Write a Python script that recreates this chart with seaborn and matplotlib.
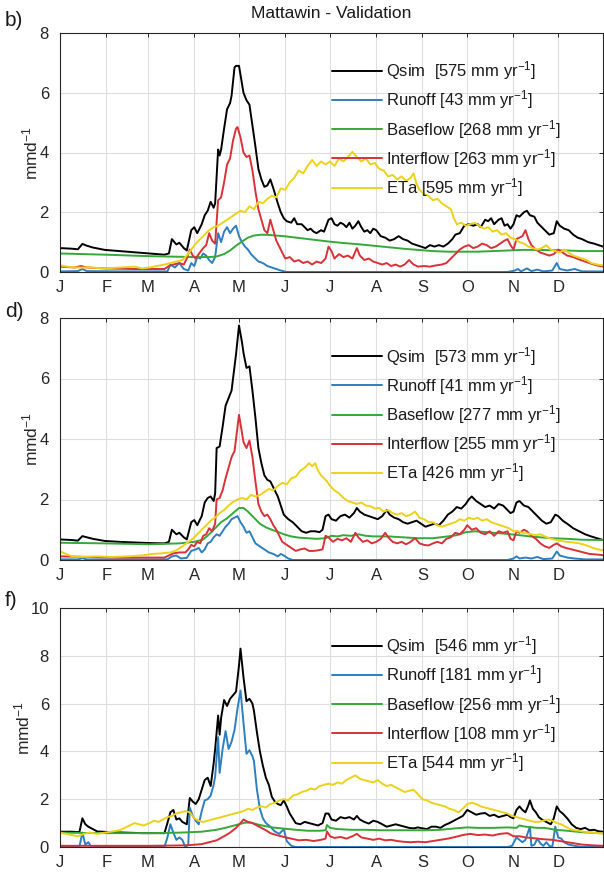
import numpy as np
import pandas as pd
import matplotlib
matplotlib.use("Agg")
import matplotlib.pyplot as plt
import seaborn as sns

# ---------------- data ----------------
month_starts = [0, 31, 59, 90, 120, 151, 181, 212, 243, 273, 304, 334]
month_labels = ["J", "F", "M", "A", "M", "J", "J", "A", "S", "O", "N", "D"]
series_names = ["Qsim", "Runoff", "Baseflow", "Interflow", "ETa"]
panel_letters = ["b)", "d)", "f)"]
title = "Mattawin - Validation"
annual_totals = [[575, 43, 268, 263, 595],
                 [573, 41, 277, 255, 426],
                 [546, 181, 256, 108, 544]]
y_max = [8, 8, 10]

# Panel b) (day of year, mm/d)
p1_qsim = [(0,0.80),(8,0.78),(12,0.76),(15,0.94),(18,0.88),(22,0.82),(30,0.74),(40,0.70),(50,0.66),(60,0.62),(70,0.58),(73,0.62),(75,1.10),(78,0.92),(80,0.98),(83,0.80),(85,0.72),(88,1.40),(90,1.50),(92,1.30),(95,1.60),(97,1.90),(99,2.05),(101,2.35),(103,2.15),(104,2.30),(105,3.20),(106,4.10),(107,3.90),(108,4.10),(110,4.80),(112,5.45),(114,5.65),(115,5.90),(117,6.85),(118,6.90),(120,6.90),(122,6.30),(123,6.00),(125,5.75),(127,5.60),(129,4.90),(131,4.20),(133,3.45),(135,3.10),(137,2.85),(139,2.90),(141,3.10),(143,2.80),(146,2.30),(148,2.00),(150,1.80),(152,1.70),(155,1.65),(157,1.80),(159,1.60),(162,1.60),(164,1.50),(166,1.40),(168,1.45),(170,1.35),(172,1.30),(175,1.40),(177,1.35),(180,1.75),(182,1.80),(184,1.60),(186,1.55),(188,1.65),(190,1.60),(192,1.50),(194,1.65),(196,1.45),(198,1.55),(200,1.70),(202,1.50),(204,1.35),(206,1.40),(208,1.30),(210,1.45),(212,1.40),(215,1.20),(218,1.15),(221,1.05),(224,1.10),(227,1.20),(230,1.10),(233,1.05),(236,0.95),(239,0.90),(242,0.85),(245,0.80),(248,0.90),(251,0.85),(254,0.90),(257,0.85),(260,0.95),(263,1.10),(265,1.25),(268,1.30),(271,1.55),(274,1.60),(277,1.55),(280,1.60),(282,1.50),(285,1.75),(287,1.70),(289,1.80),(291,1.60),(294,1.75),(296,1.80),(298,1.55),(300,1.60),(302,1.45),(304,1.60),(306,1.90),(308,1.85),(311,2.00),(313,2.05),(315,1.90),(318,1.85),(320,1.65),(322,1.55),(325,1.40),(328,1.25),(331,1.30),(333,1.70),(335,1.55),(338,1.45),(341,1.40),(344,1.25),(347,1.15),(350,1.10),(354,1.00),(358,0.95),(364,0.85)]
p1_runoff = [(0,0.02),(12,0.03),(15,0.10),(18,0.03),(40,0.02),(60,0.02),(72,0.02),(74,0.25),(77,0.15),(80,0.30),(83,0.10),(86,0.05),(88,0.30),(90,0.20),(92,0.50),(94,0.45),(96,0.62),(98,0.55),(100,0.40),(102,0.30),(104,0.50),(106,1.30),(108,1.00),(110,1.35),(112,1.50),(114,1.30),(116,1.45),(118,1.55),(120,1.20),(122,1.00),(124,0.85),(126,0.75),(128,0.60),(130,0.50),(133,0.35),(136,0.30),(139,0.20),(142,0.15),(145,0.10),(148,0.05),(152,0.0),(200,0.0),(300,0.0),(305,0.05),(307,0.10),(309,0.02),(313,0.12),(316,0.03),(320,0.08),(324,0.02),(330,0.05),(333,0.30),(335,0.10),(340,0.05),(345,0.10),(350,0.02),(364,0.02)]
p1_baseflow = [(0,0.62),(30,0.58),(60,0.53),(90,0.50),(100,0.50),(105,0.52),(110,0.60),(114,0.72),(118,0.88),(122,1.02),(126,1.15),(130,1.22),(135,1.25),(140,1.24),(150,1.20),(160,1.14),(170,1.08),(180,1.02),(190,0.97),(200,0.93),(210,0.88),(220,0.83),(230,0.78),(240,0.74),(250,0.70),(260,0.68),(270,0.68),(280,0.68),(290,0.70),(300,0.72),(310,0.74),(320,0.74),(330,0.73),(340,0.72),(350,0.70),(364,0.70)]
p1_interflow = [(0,0.18),(10,0.15),(14,0.20),(18,0.15),(30,0.12),(50,0.10),(70,0.10),(73,0.20),(76,0.25),(80,0.30),(83,0.25),(85,0.45),(87,0.75),(89,0.55),(91,0.45),(93,0.60),(96,0.80),(98,0.90),(100,1.30),(102,1.05),(104,0.95),(106,2.40),(108,2.50),(110,3.00),(112,3.60),(114,3.80),(116,4.40),(118,4.80),(119,4.85),(121,4.50),(123,4.00),(125,3.85),(127,3.90),(129,3.40),(131,2.70),(133,2.10),(135,1.75),(137,1.40),(139,1.30),(141,1.75),(143,1.40),(145,1.05),(147,0.85),(149,0.65),(151,0.45),(154,0.50),(157,0.35),(160,0.40),(163,0.30),(166,0.35),(169,0.25),(172,0.35),(175,0.30),(178,0.45),(180,0.85),(182,0.70),(184,0.45),(187,0.60),(190,0.50),(193,0.55),(196,0.45),(199,0.80),(201,0.55),(204,0.40),(207,0.45),(210,0.35),(213,0.30),(216,0.25),(219,0.30),(222,0.20),(225,0.25),(228,0.18),(231,0.25),(234,0.40),(237,0.25),(240,0.18),(244,0.20),(248,0.18),(252,0.22),(256,0.25),(259,0.30),(262,0.45),(265,0.60),(268,0.75),(271,0.85),(274,0.90),(277,0.80),(280,0.85),(283,0.95),(286,0.90),(289,0.80),(292,0.85),(295,0.95),(298,1.05),(300,1.10),(302,0.90),(304,0.75),(306,1.10),(308,1.15),(310,1.20),(312,1.40),(314,1.10),(316,0.90),(319,0.75),(322,0.65),(325,0.60),(328,0.55),(331,0.60),(334,0.75),(337,0.65),(340,0.55),(344,0.50),(348,0.42),(352,0.35),(356,0.28),(360,0.22),(364,0.18)]
p1_eta = [(0,0.22),(5,0.18),(10,0.15),(20,0.15),(30,0.12),(40,0.15),(50,0.18),(55,0.12),(60,0.15),(65,0.20),(70,0.25),(74,0.30),(78,0.35),(82,0.40),(85,0.55),(88,0.75),(91,0.95),(94,1.10),(97,1.25),(100,1.40),(103,1.50),(106,1.55),(109,1.65),(112,1.75),(115,1.85),(118,1.95),(121,2.05),(124,2.00),(127,2.20),(130,2.10),(133,2.35),(136,2.30),(139,2.45),(142,2.55),(145,2.50),(148,2.80),(151,2.75),(154,3.00),(157,3.15),(160,3.40),(163,3.30),(166,3.55),(169,3.75),(172,3.55),(175,3.70),(178,3.60),(181,3.70),(184,3.55),(187,3.80),(190,3.70),(193,3.85),(196,4.02),(199,3.85),(202,3.70),(205,3.80),(208,3.60),(211,3.65),(214,3.45),(217,3.40),(220,3.20),(223,3.25),(226,3.10),(229,3.20),(232,3.05),(235,3.15),(237,3.30),(239,2.95),(241,2.75),(244,2.60),(247,2.55),(250,2.40),(253,2.45),(256,2.30),(259,2.20),(262,2.10),(264,1.80),(266,1.60),(269,1.65),(272,1.55),(275,1.60),(278,1.65),(281,1.55),(284,1.45),(287,1.50),(290,1.35),(293,1.40),(296,1.25),(299,1.30),(302,1.15),(305,1.10),(308,1.00),(311,0.95),(314,0.85),(317,0.80),(320,0.75),(323,0.80),(326,0.90),(329,0.75),(332,0.70),(335,0.65),(338,0.75),(341,0.65),(344,0.55),(347,0.50),(350,0.45),(353,0.40),(356,0.30),(360,0.25),(364,0.22)]

# Panel d)
p2_qsim = [(0,0.68),(8,0.66),(12,0.64),(15,0.79),(18,0.75),(22,0.70),(30,0.63),(40,0.60),(50,0.58),(60,0.56),(70,0.55),(73,0.60),(75,1.00),(78,0.85),(80,0.90),(83,0.75),(85,0.68),(88,1.25),(90,1.32),(92,1.15),(95,1.45),(97,1.90),(99,2.05),(101,2.10),(103,1.95),(104,2.20),(105,3.70),(107,3.75),(109,4.40),(111,5.10),(113,5.35),(115,5.60),(117,6.40),(118,6.80),(120,7.75),(122,7.20),(123,6.85),(125,6.35),(127,6.40),(129,5.60),(131,4.70),(133,3.70),(135,3.20),(137,2.80),(139,2.65),(141,2.60),(143,2.40),(146,2.10),(148,1.80),(150,1.50),(153,1.35),(156,1.25),(159,1.10),(162,0.95),(165,0.90),(168,0.95),(171,0.95),(174,0.92),(176,1.00),(178,1.45),(180,1.50),(182,1.35),(185,1.30),(188,1.45),(191,1.50),(194,1.40),(197,1.55),(199,1.72),(201,1.60),(204,1.50),(207,1.45),(210,1.40),(213,1.35),(216,1.45),(219,1.65),(221,1.50),(224,1.40),(227,1.35),(230,1.25),(233,1.20),(236,1.25),(239,1.30),(242,1.20),(245,1.10),(248,1.15),(251,1.20),(254,1.15),(257,1.30),(260,1.50),(263,1.60),(266,1.75),(269,1.70),(272,1.85),(274,2.00),(276,2.10),(279,1.95),(282,1.85),(285,1.75),(288,1.80),(291,1.70),(294,1.85),(297,1.80),(300,1.65),(302,1.55),(304,1.60),(306,1.90),(308,1.95),(311,1.80),(314,1.75),(317,1.60),(320,1.45),(323,1.30),(326,1.20),(329,1.25),(332,1.50),(334,1.45),(337,1.30),(340,1.20),(344,1.05),(348,0.95),(352,0.85),(356,0.78),(360,0.72),(364,0.66)]
p2_runoff = [(0,0.02),(12,0.02),(15,0.06),(18,0.02),(60,0.02),(72,0.02),(75,0.12),(78,0.15),(81,0.05),(85,0.07),(88,0.30),(91,0.35),(93,0.40),(95,0.25),(97,0.35),(99,0.55),(101,0.60),(103,0.75),(105,0.85),(107,0.80),(109,0.95),(111,1.10),(113,1.20),(115,1.35),(117,1.40),(119,1.45),(121,1.25),(123,1.10),(125,0.90),(127,0.95),(129,0.75),(131,0.55),(134,0.45),(137,0.35),(140,0.25),(143,0.20),(146,0.12),(148,0.20),(150,0.15),(153,0.05),(156,0.0),(300,0.0),(304,0.05),(306,0.12),(308,0.05),(312,0.08),(316,0.05),(320,0.10),(324,0.03),(330,0.05),(333,0.28),(335,0.15),(340,0.08),(345,0.05),(352,0.02),(364,0.02)]
p2_baseflow = [(0,0.57),(30,0.55),(60,0.52),(80,0.55),(90,0.60),(96,0.68),(100,0.85),(104,1.05),(108,1.25),(112,1.38),(116,1.55),(120,1.72),(123,1.72),(126,1.60),(130,1.40),(134,1.20),(138,1.08),(142,1.00),(146,0.93),(150,0.85),(155,0.78),(160,0.74),(166,0.72),(172,0.70),(178,0.72),(182,0.80),(186,0.78),(190,0.82),(195,0.80),(200,0.85),(205,0.80),(210,0.78),(220,0.78),(230,0.75),(240,0.72),(250,0.72),(260,0.78),(266,0.82),(272,0.92),(278,0.95),(284,0.93),(290,0.90),(296,0.88),(302,0.85),(308,0.82),(315,0.78),(322,0.75),(330,0.72),(340,0.70),(350,0.67),(364,0.66)]
p2_interflow = [(0,0.12),(20,0.10),(40,0.08),(60,0.08),(70,0.08),(73,0.15),(76,0.22),(80,0.25),(84,0.25),(86,0.35),(88,0.50),(90,0.45),(92,0.60),(94,0.55),(96,0.80),(98,0.85),(100,1.05),(102,0.95),(104,1.20),(105,2.00),(107,2.05),(109,2.30),(111,2.70),(113,3.05),(115,3.40),(117,3.60),(119,4.40),(120,4.80),(122,4.20),(123,3.90),(125,3.70),(127,3.95),(129,3.40),(131,2.60),(133,1.85),(135,1.60),(137,1.45),(139,1.50),(141,1.35),(143,1.15),(145,1.00),(147,0.80),(149,0.60),(152,0.50),(155,0.40),(158,0.30),(161,0.35),(164,0.38),(167,0.30),(170,0.30),(173,0.32),(176,0.35),(178,0.80),(180,0.75),(183,0.60),(186,0.70),(189,0.65),(192,0.72),(195,0.60),(198,0.90),(200,0.75),(203,0.60),(206,0.65),(209,0.55),(212,0.60),(215,0.70),(218,0.90),(220,0.75),(223,0.60),(226,0.55),(229,0.60),(232,0.52),(235,0.60),(238,0.72),(241,0.55),(244,0.50),(247,0.48),(250,0.55),(253,0.60),(256,0.55),(259,0.70),(262,0.75),(265,0.90),(268,0.85),(271,1.00),(273,1.15),(276,1.00),(279,1.05),(282,0.90),(285,0.85),(288,0.95),(291,0.80),(294,0.95),(297,0.90),(300,0.95),(302,0.70),(304,0.65),(306,0.95),(308,0.90),(311,1.00),(313,0.95),(316,0.80),(319,0.70),(322,0.55),(325,0.45),(328,0.40),(331,0.50),(333,0.55),(336,0.45),(339,0.40),(343,0.35),(347,0.30),(351,0.25),(355,0.20),(360,0.18),(364,0.16)]
p2_eta = [(0,0.28),(4,0.20),(8,0.12),(15,0.10),(25,0.12),(35,0.10),(45,0.12),(55,0.15),(62,0.20),(68,0.22),(74,0.25),(78,0.32),(82,0.45),(86,0.60),(89,0.70),(92,0.85),(95,1.00),(98,1.15),(101,1.30),(104,1.40),(107,1.55),(110,1.65),(113,1.80),(116,1.92),(119,2.00),(122,2.05),(125,2.00),(128,2.15),(131,2.10),(134,2.15),(137,2.25),(140,2.35),(143,2.30),(146,2.45),(149,2.55),(152,2.50),(155,2.70),(158,2.75),(161,2.95),(164,3.05),(167,3.20),(169,3.10),(171,3.20),(173,2.95),(175,2.80),(177,2.70),(179,2.60),(181,2.45),(184,2.30),(187,2.20),(190,2.05),(193,1.95),(196,1.90),(199,1.85),(202,1.90),(205,1.80),(208,1.78),(211,1.70),(214,1.72),(217,1.60),(220,1.65),(223,1.55),(226,1.50),(229,1.55),(232,1.45),(235,1.50),(238,1.60),(241,1.40),(244,1.35),(247,1.25),(250,1.25),(253,1.15),(256,1.10),(259,1.15),(262,1.20),(265,1.25),(268,1.35),(271,1.30),(274,1.40),(277,1.35),(280,1.40),(283,1.30),(286,1.35),(289,1.25),(292,1.20),(295,1.15),(298,1.10),(301,1.05),(304,0.95),(307,0.95),(310,0.90),(313,0.88),(316,0.85),(319,0.82),(322,0.85),(325,0.78),(328,0.72),(331,0.68),(334,0.65),(337,0.62),(340,0.60),(344,0.58),(348,0.55),(352,0.50),(356,0.42),(360,0.36),(364,0.32)]

# Panel f)
p3_qsim = [(0,0.64),(8,0.64),(13,0.62),(15,1.20),(17,0.95),(19,0.85),(22,0.75),(25,0.65),(35,0.62),(45,0.60),(55,0.58),(65,0.58),(70,0.58),(72,1.00),(74,1.45),(76,1.55),(78,1.15),(80,1.20),(82,1.05),(85,0.95),(87,2.05),(89,1.90),(91,1.80),(93,2.00),(95,2.40),(97,2.80),(99,2.90),(101,2.55),(103,3.50),(104,4.10),(106,5.50),(107,4.70),(108,5.40),(110,6.15),(112,5.90),(114,6.20),(116,6.35),(118,6.50),(120,7.60),(121,8.30),(122,7.70),(123,7.10),(125,6.10),(127,6.20),(129,6.00),(130,5.70),(132,4.80),(134,4.00),(136,3.40),(138,2.90),(140,2.60),(142,2.10),(144,1.90),(146,1.80),(148,1.75),(150,1.95),(152,1.70),(154,1.40),(156,1.20),(158,1.00),(161,0.95),(164,1.05),(167,1.00),(170,0.95),(173,0.90),(176,1.00),(178,1.40),(180,1.40),(182,1.15),(185,1.10),(188,1.25),(191,1.20),(194,1.25),(197,1.15),(199,1.30),(201,1.15),(204,1.05),(207,0.98),(210,1.10),(213,1.05),(216,0.95),(219,0.85),(222,0.90),(225,0.95),(228,0.90),(231,0.85),(234,0.80),(237,0.78),(240,0.82),(243,0.78),(246,0.75),(249,0.85),(252,0.85),(255,0.80),(258,0.92),(261,1.00),(264,1.10),(267,1.20),(270,1.30),(273,1.55),(276,1.45),(279,1.35),(282,1.40),(285,1.42),(288,1.30),(291,1.35),(294,1.25),(297,1.30),(300,1.35),(302,1.25),(304,1.20),(306,1.55),(308,1.70),(310,1.55),(312,1.45),(314,1.75),(315,1.95),(317,1.60),(319,1.45),(321,1.25),(323,1.15),(326,1.05),(329,0.95),(331,1.20),(333,1.70),(335,1.50),(337,1.40),(340,1.20),(343,0.95),(346,0.80),(349,0.75),(352,0.80),(355,0.70),(358,0.72),(361,0.66),(364,0.64)]
p3_runoff = [(0,0.0),(13,0.0),(15,0.60),(17,0.10),(19,0.20),(21,0.0),(70,0.0),(72,0.40),(74,0.95),(76,0.60),(78,0.30),(80,0.40),(82,0.30),(84,0.0),(86,0.10),(87,1.65),(89,1.30),(91,1.10),(93,0.95),(95,1.50),(97,1.95),(99,2.00),(101,2.15),(103,2.60),(104,2.95),(106,4.60),(107,3.10),(109,4.10),(111,4.85),(113,4.10),(115,4.40),(117,4.90),(119,5.80),(121,6.55),(123,5.20),(125,3.90),(127,4.05),(129,3.80),(130,3.60),(132,2.40),(134,1.60),(136,1.20),(138,1.00),(141,0.85),(144,0.65),(147,0.55),(150,0.75),(152,0.25),(155,0.05),(158,0.0),(300,0.0),(303,0.05),(306,0.40),(308,0.30),(310,0.20),(312,0.30),(315,0.85),(316,0.05),(318,0.10),(320,0.35),(322,0.15),(324,0.05),(326,0.20),(328,0.05),(330,0.0),(332,0.85),(334,0.40),(336,0.35),(338,0.20),(341,0.10),(345,0.05),(350,0.0),(364,0.0)]
p3_baseflow = [(0,0.60),(30,0.58),(60,0.58),(80,0.60),(95,0.64),(105,0.72),(112,0.82),(118,0.92),(124,1.02),(128,1.02),(134,0.92),(142,0.82),(150,0.77),(158,0.72),(166,0.68),(174,0.68),(178,0.70),(179,0.92),(181,0.80),(186,0.75),(195,0.72),(205,0.72),(215,0.70),(225,0.70),(235,0.70),(245,0.70),(255,0.72),(265,0.78),(273,0.82),(280,0.80),(290,0.80),(300,0.82),(306,0.80),(308,0.90),(312,0.85),(320,0.80),(325,0.80),(332,0.72),(340,0.68),(350,0.62),(364,0.57)]
p3_interflow = [(0,0.05),(30,0.05),(60,0.05),(75,0.06),(85,0.07),(95,0.12),(100,0.20),(105,0.28),(110,0.45),(114,0.60),(118,0.80),(121,1.00),(123,1.15),(126,1.05),(129,1.00),(132,0.90),(135,0.80),(138,0.70),(141,0.58),(145,0.50),(150,0.42),(155,0.35),(160,0.28),(165,0.30),(170,0.25),(175,0.30),(178,0.35),(179,0.65),(181,0.45),(184,0.38),(188,0.42),(192,0.35),(196,0.45),(199,0.55),(202,0.40),(206,0.35),(210,0.30),(214,0.35),(218,0.28),(222,0.30),(226,0.25),(230,0.22),(235,0.20),(240,0.22),(245,0.20),(250,0.25),(255,0.30),(260,0.35),(265,0.42),(270,0.50),(275,0.55),(280,0.50),(285,0.52),(290,0.48),(295,0.55),(300,0.58),(304,0.45),(308,0.45),(312,0.40),(316,0.38),(320,0.35),(325,0.32),(330,0.30),(335,0.25),(340,0.20),(345,0.15),(350,0.10),(357,0.07),(364,0.05)]
p3_eta = [(0,0.60),(4,0.55),(8,0.50),(12,0.45),(16,0.55),(20,0.60),(25,0.55),(30,0.60),(35,0.65),(40,0.70),(45,0.85),(50,1.00),(53,0.95),(56,0.90),(60,1.00),(63,1.10),(66,1.05),(69,1.15),(72,1.25),(75,1.30),(78,1.40),(81,1.45),(84,1.50),(87,1.45),(90,1.20),(93,1.10),(96,1.05),(99,1.10),(102,1.15),(105,1.20),(108,1.25),(111,1.30),(114,1.35),(117,1.40),(120,1.45),(123,1.50),(126,1.60),(129,1.55),(132,1.65),(135,1.70),(138,1.65),(141,1.80),(144,1.85),(147,1.95),(150,2.00),(153,1.95),(156,2.15),(159,2.20),(162,2.30),(165,2.35),(168,2.45),(171,2.40),(174,2.55),(177,2.60),(180,2.65),(183,2.60),(186,2.70),(189,2.65),(192,2.80),(195,2.90),(198,3.00),(201,2.85),(204,2.80),(207,2.75),(210,2.70),(213,2.80),(216,2.65),(219,2.55),(222,2.60),(225,2.50),(228,2.40),(231,2.30),(234,2.35),(237,2.40),(240,2.20),(243,2.00),(246,1.95),(249,1.85),(252,1.80),(255,1.75),(258,1.70),(261,1.60),(264,1.55),(267,1.45),(270,1.60),(273,1.80),(276,1.85),(279,1.80),(282,1.70),(285,1.65),(288,1.60),(291,1.55),(294,1.50),(297,1.45),(300,1.40),(303,1.30),(306,1.25),(309,1.20),(312,1.15),(315,1.10),(318,1.05),(321,1.05),(324,1.10),(327,1.15),(330,1.10),(333,1.00),(336,0.95),(339,0.85),(342,0.75),(345,0.70),(348,0.68),(351,0.64),(355,0.62),(360,0.58),(364,0.57)]

panels = [
    [p1_qsim, p1_runoff, p1_baseflow, p1_interflow, p1_eta],
    [p2_qsim, p2_runoff, p2_baseflow, p2_interflow, p2_eta],
    [p3_qsim, p3_runoff, p3_baseflow, p3_interflow, p3_eta],
]

# ---------------- style ----------------
colors = {"Qsim": "#000000", "Runoff": "#2d7fc0", "Baseflow": "#35a83a",
          "Interflow": "#d83137", "ETa": "#ecd21a"}

sns.set_style("white")
plt.rcParams["font.family"] = ["Liberation Sans", "DejaVu Sans"]
plt.rcParams["mathtext.default"] = "regular"

W, H = 604, 877
fig = plt.figure(figsize=(W / 100, H / 100), dpi=100)

# axes boxes in pixels: (top, bottom)
boxes = [(33, 272), (318, 560), (608, 847)]
left_px, right_px = 60, 603
label_y = [20, 312, 600]
ylabel_x = [-0.037, -0.037, -0.05]

for i, (top, bot) in enumerate(boxes):
    ax = fig.add_axes([left_px / W, 1 - bot / H, (right_px - left_px) / W, (bot - top) / H])
    frames = []
    for name, pts in zip(series_names, panels[i]):
        d = pd.DataFrame(pts, columns=["day", "value"])
        d["series"] = name
        frames.append(d)
    df = pd.concat(frames, ignore_index=True)
    labels = {}
    for name, tot in zip(series_names, annual_totals[i]):
        sep = "  " if name == "Qsim" else " "
        labels[name] = f"{name}{sep}[{tot} mm yr$^{{-1}}$]"
    for name in series_names:
        sub = df[df["series"] == name]
        sns.lineplot(data=sub, x="day", y="value", color=colors[name], lw=1.4,
                     label=labels[name], ax=ax, sort=True, estimator=None)
    ax.set_xlim(0, 364)
    ax.set_ylim(0, y_max[i])
    ax.set_yticks(np.arange(0, y_max[i] + 1, 2))
    ax.set_xticks(month_starts)
    ax.set_xticklabels(month_labels)
    ax.grid(True, color="#dedede", lw=0.8)
    ax.set_axisbelow(True)
    ax.tick_params(direction="in", length=3, width=0.7, top=True, right=True,
                   labelsize=12, colors="#262626", pad=6)
    ax.tick_params(axis="y", pad=8)
    for s in ax.spines.values():
        s.set_color("#262626")
        s.set_linewidth(0.8)
    ax.set_xlabel("")
    ax.set_ylabel("mmd$^{-1}$", fontsize=12.5, color="#262626")
    ax.yaxis.set_label_coords(ylabel_x[i], 0.5)
    leg = ax.legend(loc="upper left", bbox_to_anchor=(0.5, 0.89), frameon=False,
                    fontsize=12, handlelength=3.0, handletextpad=0.25,
                    labelspacing=0.38, borderpad=0, borderaxespad=0)
    for t in leg.get_texts():
        t.set_color("#1a1a1a")
    fig.text(5 / W, 1 - label_y[i] / H, panel_letters[i], fontsize=15,
             va="center", ha="left", color="#1a1a1a")

fig.text((left_px + right_px) / 2 / W, 1 - 14 / H, title, fontsize=12.5,
         ha="center", va="center", color="#1a1a1a")

fig.savefig("out.png", dpi=100)
